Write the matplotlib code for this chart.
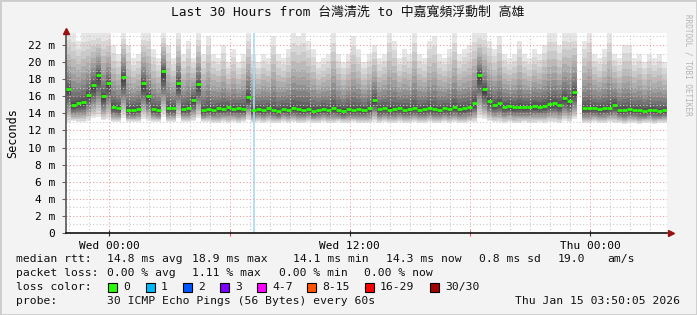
import numpy as np
import matplotlib
matplotlib.use("Agg")
import matplotlib.pyplot as plt
from matplotlib.patches import Rectangle

# ---- data (15 min per column, from Tue 21:50) ----
t_start = -2.1667          # hours relative to Wed 00:00
step_h = 0.25

median_ms = [
    16.8, 15.0, 15.2, 15.3, 16.2, 17.3, 18.5, 16.0, 17.5, 14.8,
    14.6, 18.3, 14.4, 14.4, 14.5, 17.5, 16.0, 14.5, 14.4, 18.9,
    14.6, 14.6, 17.6, 14.5, 14.6, 15.6, 17.4, 14.4, 14.5, 14.4,
    14.6, 14.5, 14.7, 14.5, 14.6, 14.5, 15.9, 14.4, 14.5, 14.4,
    14.6, 14.4, 14.3, 14.5, 14.4, 14.6, 14.5, 14.4, 14.5, 14.3,
    14.4, 14.5, 14.4, 14.6, 14.4, 14.3, 14.5, 14.4, 14.5, 14.4,
    14.6, 15.6, 14.5, 14.6, 14.4, 14.5, 14.6, 14.4, 14.5, 14.6,
    14.4, 14.5, 14.6, 14.5, 14.4, 14.6, 14.5, 14.7, 14.5, 14.6,
    14.7, 15.2, 18.5, 16.8, 15.5, 15.0, 15.2, 14.8, 14.9, 14.7,
    14.8, 14.7, 14.8, 14.9, 14.8, 14.9, 15.1, 15.2, 15.0, 15.8,
    15.4, 16.5, np.nan, 14.6, 14.6, 14.6, 14.5, 14.6, 14.6, 15.0,
    14.4, 14.4, 14.5, 14.4, 14.4, 14.3, 14.4, 14.4, 14.3, 14.4,
]

smoke_hi_ms = [
    23.4, 23.4, 22.5, 23.4, 23.4, 23.4, 23.4, 23.4, 23.4, 22.0,
    21.0, 23.4, 22.0, 20.5, 21.0, 23.4, 23.4, 21.5, 20.5, 23.4,
    22.0, 20.5, 23.4, 21.0, 22.5, 20.5, 23.4, 21.0, 23.0, 21.0,
    20.5, 22.0, 20.0, 21.5, 20.0, 21.0, 23.4, 21.0, 20.0, 21.0,
    20.5, 23.0, 21.0, 20.5, 21.5, 23.4, 23.0, 23.4, 22.5, 21.5,
    20.0, 20.5, 21.0, 23.4, 21.0, 20.0, 21.0, 23.0, 21.5, 20.0,
    21.0, 22.0, 20.5, 21.0, 23.4, 22.5, 20.5, 21.5, 21.0, 23.4,
    21.0, 20.5, 22.5, 23.0, 21.0, 20.5, 21.5, 23.4, 21.0, 21.5,
    22.0, 23.4, 23.4, 23.4, 22.5, 21.5, 23.0, 21.0, 20.5, 21.0,
    22.5, 21.0, 20.5, 21.5, 21.0, 22.0, 23.4, 23.4, 22.0, 23.4,
    23.4, 23.4, np.nan, 22.5, 23.4, 21.0, 20.5, 21.5, 23.4, 21.0,
    20.5, 22.0, 22.0, 20.5, 21.0, 20.0, 21.0, 20.5, 21.0, 20.0,
]

smoke_lo_ms = [
    13.0, 13.1, 13.0, 13.0, 13.1, 13.4, 13.6, 13.2, 13.3, 13.0,
    13.0, 13.5, 13.0, 13.0, 13.0, 13.3, 13.1, 13.0, 13.0, 13.6,
    13.0, 13.0, 13.4, 13.0, 13.0, 13.1, 13.4, 13.0, 13.0, 12.9,
    12.9, 13.0, 12.9, 13.0, 12.9, 13.0, 13.2, 12.9, 13.0, 12.9,
    13.0, 12.9, 12.9, 13.0, 12.9, 13.0, 12.9, 12.9, 13.0, 12.9,
    12.9, 13.0, 12.9, 12.9, 13.0, 12.9, 12.9, 13.0, 12.9, 12.9,
    12.9, 13.0, 12.9, 13.0, 12.9, 12.9, 13.0, 12.9, 12.9, 13.0,
    12.9, 12.9, 13.0, 12.9, 12.9, 13.0, 12.9, 13.0, 12.9, 12.9,
    13.0, 13.0, 13.5, 13.3, 13.1, 13.0, 13.0, 12.9, 13.0, 12.9,
    12.9, 13.0, 12.9, 12.9, 13.0, 12.9, 13.0, 13.0, 12.9, 13.1,
    13.0, 13.3, np.nan, 12.9, 12.9, 13.0, 12.9, 12.9, 13.0, 12.9,
    12.9, 12.8, 12.9, 12.9, 12.8, 12.9, 12.9, 12.8, 12.9, 12.9,
]

loss_col = [37]            # columns with packet loss
loss_count = [1]

x_tick_hours = [0, 12, 24]
x_tick_labels = ["Wed 00:00", "Wed 12:00", "Thu 00:00"]
y_ticks = [0, 2, 4, 6, 8, 10, 12, 14, 16, 18, 20, 22]

loss_colors = ["#26ff00", "#00b8ff", "#0059ff", "#7e00ff",
               "#ff00ff", "#ff5500", "#ff0000", "#a10000"]
loss_labels = ["0", "1", "2", "3", "4-7", "8-15", "16-29", "30/30"]

# ---- figure ----
W, H = 697, 315
mono = ["DejaVu Sans Mono", "Noto Sans CJK TC"]
plt.rcParams["font.family"] = mono

fig = plt.figure(figsize=(W / 100, H / 100), dpi=100, facecolor="#f3f3f3")
fig.patches.append(Rectangle((0, 0), 1, 1, transform=fig.transFigure,
                             fill=False, edgecolor="#cccccc", lw=2))

ax = fig.add_axes([66 / W, (H - 233) / H, 601 / W, 200 / H])
ax.set_facecolor("white")

med = np.array(median_ms, dtype=float)
hi = np.array(smoke_hi_ms, dtype=float)
lo = np.array(smoke_lo_ms, dtype=float)
t = t_start + step_h * np.arange(len(med))

# smoke: outer bands light, inner bands dark
nb = 12
greys = np.linspace(0.9, 0.28, nb)
for k in range(nb):
    f = 1 - k / nb
    top = med + (hi - med) * f ** 1.6
    bot = med - (med - lo) * f ** 0.8
    ax.bar(t, top - bot, bottom=bot, width=step_h, align="edge",
           color=str(greys[k]), lw=0, zorder=1)

# loss background lines
for c, n in zip(loss_col, loss_count):
    ax.axvline(t[c] + step_h / 2, color="#a8dcf2", lw=1.2, zorder=1.5)

# grid (drawn over the smoke like rrdtool)
dot = (0, (1, 2))
for h in np.arange(-2, 28):
    major = (h % 6 == 0)
    ax.axvline(h, color="#e8a0a0" if major else "#cccccc", lw=0.8,
               ls=dot, zorder=2)
for v in np.arange(1, 24):
    major = (v % 2 == 0)
    ax.axhline(v, color="#e8a0a0" if major else "#cccccc", lw=0.8,
               ls=dot, zorder=2)

# median
ax.hlines(med, t, t + step_h, color=loss_colors[0], lw=2.0, zorder=3)

ax.set_xlim(t_start, t_start + 30)
ax.set_ylim(0, 23.4)

ax.set_xticks(x_tick_hours)
ax.set_xticklabels(x_tick_labels)
ax.set_xticks([6, 18], minor=True)
ax.set_yticks(y_ticks)
ax.set_yticklabels(["0"] + [f"{v} m" for v in y_ticks[1:]])
ax.tick_params(axis="x", which="major", direction="inout", length=5,
               width=0.8, color="#333333", labelsize=8, pad=3)
ax.tick_params(axis="x", which="minor", direction="inout", length=4,
               width=0.8, color="#e06060")
ax.tick_params(axis="y", direction="out", length=3, width=0.8,
               color="#666666", labelsize=8, pad=5)

for s in ("top", "right"):
    ax.spines[s].set_visible(False)
ax.spines["left"].set_color("#555555")
ax.spines["bottom"].set_color("#111111")
ax.spines["left"].set_linewidth(1.2)
ax.spines["bottom"].set_linewidth(1.2)

# axis arrows
ax.plot([1.006], [0], marker=">", ms=5, color="#9b1010",
        transform=ax.transAxes, clip_on=False, zorder=5)
ax.plot([0], [1.012], marker="^", ms=5, color="#9b1010",
        transform=ax.transAxes, clip_on=False, zorder=5)

ax.set_ylabel("Seconds", fontsize=8.5, labelpad=6)


def ftext(x, y, s, **kw):
    kw.setdefault("fontsize", 8.2)
    kw.setdefault("va", "center")
    kw.setdefault("color", "#111111")
    fig.text(x / W, 1 - y / H, s, **kw)


ftext(348, 12, "Last 30 Hours from 台灣清洗 to 中嘉寬頻浮動制 高雄",
      ha="center", fontsize=9.3)
ftext(688, 65, "RRDTOOL / TOBI OETIKER", rotation=270, ha="center",
      fontsize=5.5, color="#b4b4b4")

row1 = [(16, "median rtt:"), (107, "14.8 ms avg"), (192, "18.9 ms max"),
        (293, "14.1 ms min"), (386, "14.3 ms now"), (479, "0.8 ms sd"),
        (558, "19.0"), (607, "am/s")]
row2 = [(16, "packet loss:"), (107, "0.00 % avg"), (192, "1.11 % max"),
        (279, "0.00 % min"), (364, "0.00 % now")]
for x, s in row1:
    ftext(x, 259, s)
for x, s in row2:
    ftext(x, 273, s)

ftext(16, 287, "loss color:")
swatch_x = [108, 146, 183, 220, 257, 307, 365, 430]
for x, col, lab in zip(swatch_x, loss_colors, loss_labels):
    fig.patches.append(Rectangle((x / W, 1 - 291.5 / H), 9 / W, 9 / H,
                                 transform=fig.transFigure, facecolor=col,
                                 edgecolor="black", lw=0.8))
    ftext(x + 15, 287, lab)

ftext(16, 301, "probe:")
ftext(107, 301, "30 ICMP Echo Pings (56 Bytes) every 60s")
ftext(680, 301, "Thu Jan 15 03:50:05 2026", ha="right")

fig.savefig("out.png", dpi=100, facecolor=fig.get_facecolor())
